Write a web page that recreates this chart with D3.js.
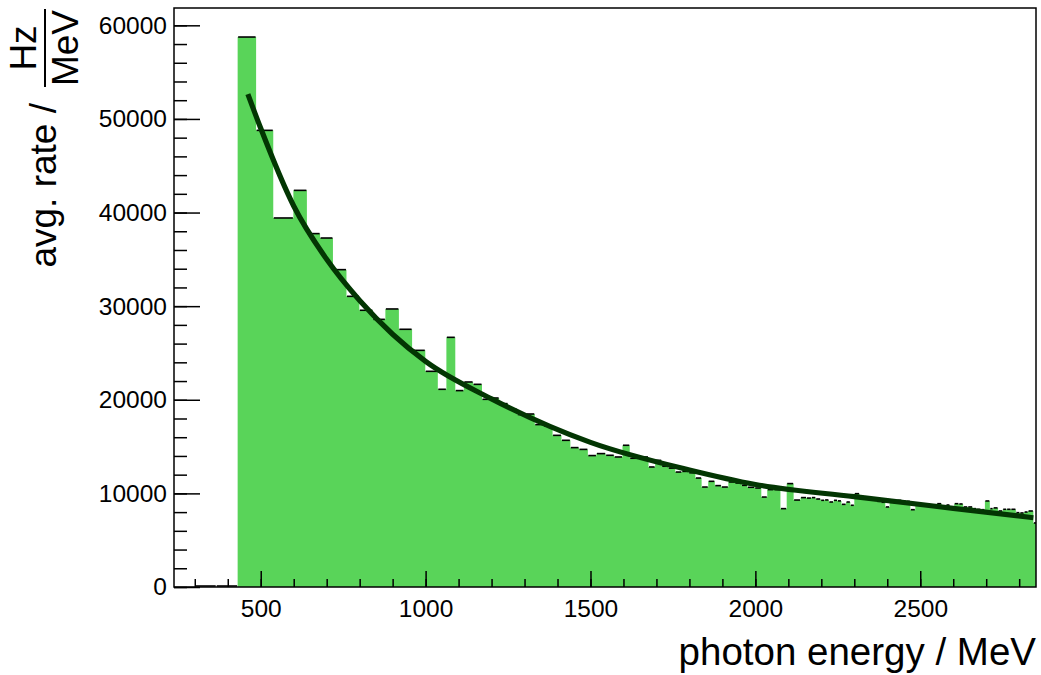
<!DOCTYPE html>
<html>
<head>
<meta charset="utf-8">
<script src="https://cdn.jsdelivr.net/npm/d3@7"></script>
<style>
  html, body { margin: 0; padding: 0; background: #fff; }
  svg { display: block; }
  text { font-family: "Liberation Sans", Arial, Helvetica, sans-serif; fill: #000; }
</style>
</head>
<body>
<svg id="chart" width="1041" height="675"></svg>
<script>
// Bin edges of the tagged photon energy histogram (MeV)
const binEdges = [
  300, 365,
  430, 486, 538, 599, 640, 680, 719, 760, 799, 840, 878, 919, 959, 999,
  1037, 1063, 1090, 1116, 1144, 1171, 1197, 1223, 1250, 1278, 1304, 1331,
  1358, 1385, 1412, 1439, 1465, 1492, 1518, 1546, 1572, 1597, 1619, 1645,
  1676, 1696, 1716, 1736, 1757, 1777, 1798, 1818, 1837, 1857, 1877, 1897,
  1918, 1938, 1958, 1976, 1998, 2018, 2036, 2056, 2076, 2095, 2116, 2137,
  2155, 2170, 2183, 2198, 2210, 2223, 2237, 2249, 2261, 2275, 2288, 2300,
  2316, 2328, 2340, 2353, 2368, 2381, 2394, 2407, 2418, 2429, 2444, 2457,
  2470, 2485, 2498, 2511, 2524, 2537, 2550, 2565, 2578, 2590, 2603, 2617,
  2630, 2644, 2659, 2671, 2684, 2696, 2711, 2721, 2736, 2750, 2762, 2775,
  2790, 2802, 2815, 2827, 2843, 2857
];

// Average rate per bin (Hz/MeV)
const binRates = [
  0, 0,
  58750, 48780, 39420, 42370, 37750, 37280, 33900, 31050, 29560, 28590,
  29700, 27530, 25280, 23040,
  21120, 26670, 20980, 21900, 21650, 20050, 20190, 19590, 18980, 18420,
  18480, 17350, 17200, 16200, 15670, 14890, 14700, 14040, 14250, 14070,
  13890, 15140, 13750, 13890, 12820, 13530, 12900, 12700, 12280, 12350,
  12200, 11640, 10680, 11290, 10830, 10680, 11220, 11110, 10860, 10650,
  10575, 9610, 10400, 10400, 8370, 11045, 9290, 9550,
  9500, 9550, 9400, 9260, 9300, 9080, 9260, 9200, 8830, 9080,
  8730, 9970, 9550, 9615, 9440, 9370, 9150, 9050, 8550, 9050,
  8950, 9260, 9200, 9150, 8260, 8850, 8750, 8700, 8650, 8600,
  8900, 8600, 8760, 8550, 8900, 8870, 8550, 8550, 8370, 8300,
  8260, 9190, 8370, 8450, 8120, 8300, 8300, 8300, 7940, 7910,
  8010, 8120, 6840
];

// Fitted rate curve, sampled in energy (MeV) and rate (Hz/MeV)
const fitEnergy = [461, 500, 600, 700, 800, 900, 1000, 1200, 1500, 1800, 2000, 2300, 2600, 2843];
const fitRate   = [52650, 49000, 40700, 35000, 30600, 27000, 24100, 20100, 15450, 12500, 10950, 9650, 8400, 7400];

// Axis tick labels
const xTickLabels = [500, 1000, 1500, 2000, 2500];
const yTickLabels = [0, 10000, 20000, 30000, 40000, 50000, 60000];

const xTitle = "photon energy / MeV";
const yTitle = "avg. rate /";
const yUnitNum = "Hz";
const yUnitDen = "MeV";

// ---- layout ----
const frame = { left: 174, right: 1036, top: 8, bottom: 587 };
const svg = d3.select("#chart");

const x = d3.scaleLinear().domain([237, 2851]).range([frame.left, frame.right]);
const y = d3.scaleLinear().domain([0, 61850]).range([frame.bottom, frame.top]);

svg.append("defs").append("clipPath").attr("id", "plot-clip")
  .append("rect")
  .attr("x", frame.left).attr("y", frame.top - 2)
  .attr("width", frame.right - frame.left).attr("height", frame.bottom - frame.top + 2);

const plot = svg.append("g").attr("clip-path", "url(#plot-clip)");

// histogram fill as one stepped area
const stepPts = binRates.map((v, i) => [binEdges[i], v]);
stepPts.push([binEdges[binEdges.length - 1], binRates[binRates.length - 1]]);

plot.append("path")
  .datum(stepPts)
  .attr("fill", "#59d459")
  .attr("d", d3.area()
    .x(d => x(d[0]))
    .y0(y(0))
    .y1(d => y(d[1]))
    .curve(d3.curveStepAfter));

// bin top markers
plot.append("g")
  .selectAll("line")
  .data(binRates)
  .join("line")
  .attr("x1", (v, i) => x(binEdges[i]) + 0.5)
  .attr("x2", (v, i) => x(binEdges[i + 1]) - 0.5)
  .attr("y1", v => y(v) - (v === 0 ? 1 : 0))
  .attr("y2", v => y(v) - (v === 0 ? 1 : 0))
  .attr("stroke", "#000")
  .attr("stroke-width", 1.6);

// fit curve
plot.append("path")
  .datum(fitEnergy.map((e, i) => [e, fitRate[i]]))
  .attr("fill", "none")
  .attr("stroke", "#033603")
  .attr("stroke-width", 5.2)
  .attr("d", d3.line().x(d => x(d[0])).y(d => y(d[1])).curve(d3.curveMonotoneX));

// ---- axes ----
const fontSize = 24.5;

const xMajor = d3.axisBottom(x).tickValues(xTickLabels).tickSize(-16).tickPadding(13)
  .tickFormat(d3.format("d"));
const xMinor = d3.axisBottom(x).tickValues(d3.range(300, 2851, 100)).tickSize(-8).tickFormat("");
const yMajor = d3.axisLeft(y).tickValues(yTickLabels).tickSize(-26).tickPadding(7)
  .tickFormat(d3.format("d"));
const yMinor = d3.axisLeft(y).tickValues(d3.range(0, 61850, 2000)).tickSize(-13).tickFormat("");

function styleAxis(g) {
  g.select(".domain").remove();
  g.selectAll(".tick line").attr("stroke", "#000").attr("stroke-width", 1.5);
  g.selectAll("text").attr("font-size", fontSize)
    .attr("font-family", "'Liberation Sans', Arial, Helvetica, sans-serif").attr("fill", "#000");
}

svg.append("g").attr("transform", `translate(0,${frame.bottom})`).call(xMinor).call(styleAxis);
svg.append("g").attr("transform", `translate(0,${frame.bottom})`).call(xMajor).call(styleAxis);
svg.append("g").attr("transform", `translate(${frame.left},0)`).call(yMinor).call(styleAxis);
svg.append("g").attr("transform", `translate(${frame.left},0)`).call(yMajor).call(styleAxis);

// frame
svg.append("rect")
  .attr("x", frame.left).attr("y", frame.top)
  .attr("width", frame.right - frame.left).attr("height", frame.bottom - frame.top)
  .attr("fill", "none").attr("stroke", "#000").attr("stroke-width", 1.5);

// ---- titles ----
const titleSize = 38.5;
svg.append("text")
  .attr("x", frame.right).attr("y", 665)
  .attr("text-anchor", "end")
  .attr("font-size", titleSize)
  .text(xTitle);

// main part of the y title, right-aligned just below the unit fraction
svg.append("text")
  .attr("transform", "translate(56,103) rotate(-90)")
  .attr("text-anchor", "end")
  .attr("font-size", 37)
  .text(yTitle);

// unit fraction Hz / MeV
const frac = svg.append("g").attr("transform", "translate(45,48) rotate(-90)");
frac.append("text").attr("x", 0).attr("y", -9).attr("text-anchor", "middle")
  .attr("font-size", 37).text(yUnitNum);
frac.append("text").attr("x", 0).attr("y", 33).attr("text-anchor", "middle")
  .attr("font-size", 37).text(yUnitDen);
frac.append("line").attr("x1", -39).attr("x2", 39).attr("y1", 0).attr("y2", 0)
  .attr("stroke", "#000").attr("stroke-width", 2);
</script>
</body>
</html>
